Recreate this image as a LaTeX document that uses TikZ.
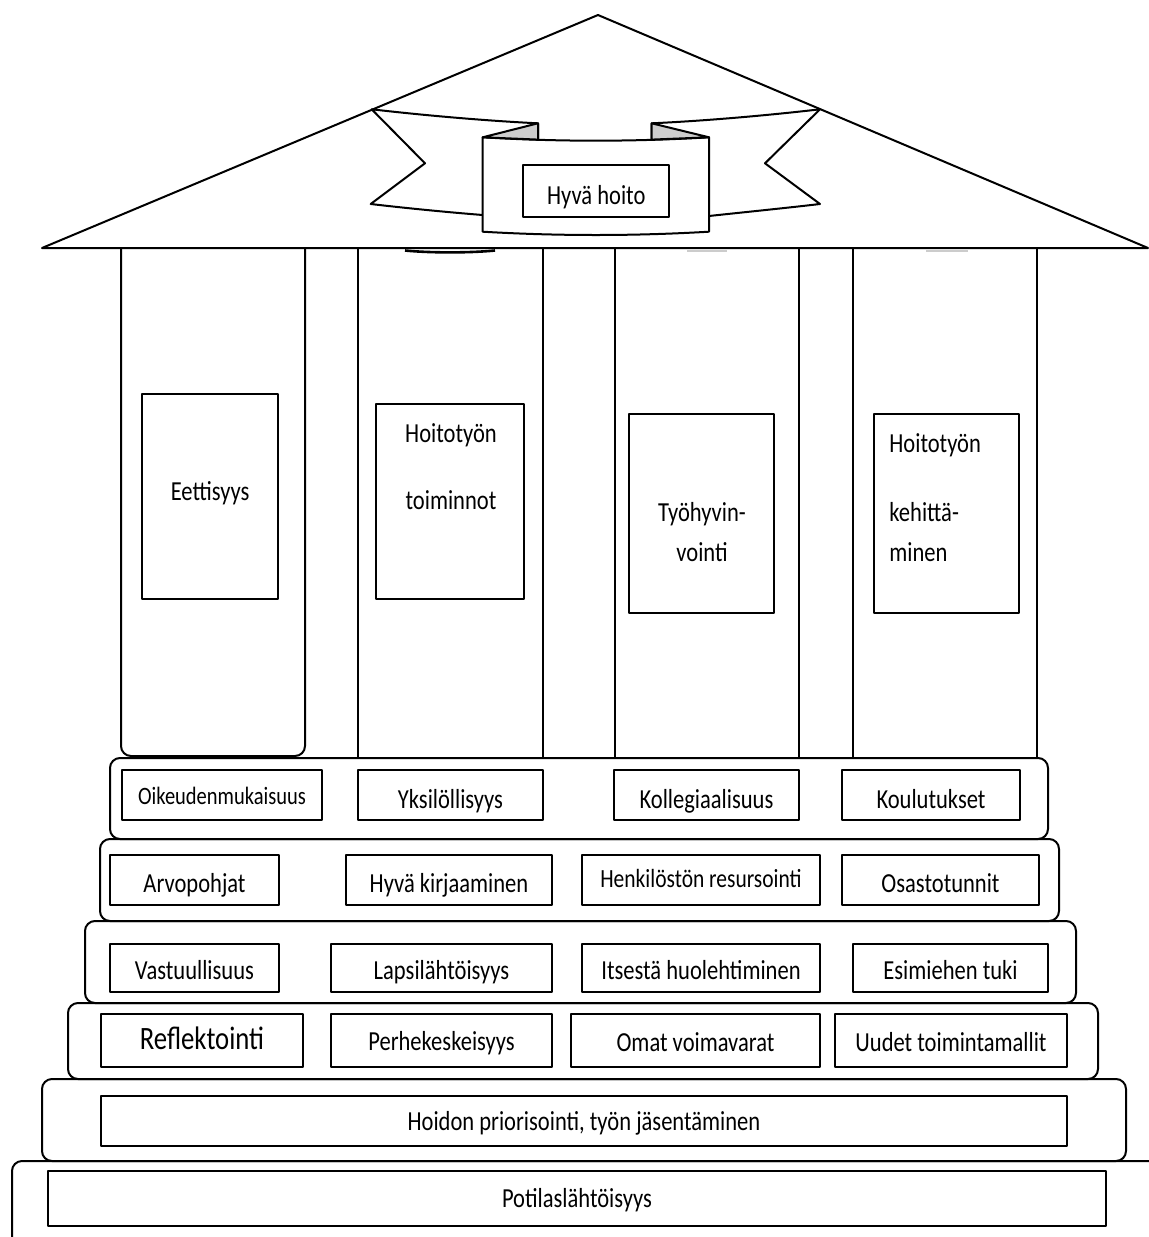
\documentclass[tikz,border=0pt]{standalone}
\usepackage{fontspec}
\setmainfont[FakeStretch=0.82]{Carlito}
\definecolor{foldgray}{RGB}{205,205,205}
\newcommand\fn{\fontsize{13.75pt}{16pt}\selectfont}
\newcommand\fnsmall{\fontsize{12.5pt}{15pt}\selectfont}
\newcommand\fnmid{\fontsize{13.1pt}{15pt}\selectfont}
\newcommand\fnbig{\fontsize{16.3pt}{19pt}\selectfont}
% name, x1, y1, x2, y2, baseline y, font, text  (pixel units, y down)
\newcommand\cell[8]{%
  \pgfmathsetmacro\cellw{(#4-#2)*0.5}%
  \pgfmathsetmacro\cellh{(#5-#3)*0.5}%
  \pgfmathsetmacro\cellt{#6-(#3+#5)/2}%
  \node[cellbox,minimum width=\cellw pt,minimum height=\cellh pt,
        text height=\cellt pt,text depth=0pt,font=#7] (#1) at ({(#2+#4)/2},{(#3+#5)/2}) {#8};}
\begin{document}
\begin{tikzpicture}[x=0.5pt,y=-0.5pt,line join=round,
  outline/.style={draw=black,line width=1pt},
  cellbox/.style={draw=black,line width=1.1pt,inner sep=0pt,outer sep=0pt,fill=white},
  lbl/.style={inner sep=0pt,font=\fn,anchor=base}]
\fill[white] (0,0) rectangle (1149,1237);
\useasboundingbox (0,0) rectangle (1149,1237);

% roof
\coordinate (roofL) at (42,248);
\coordinate (apex) at (598,15);
\coordinate (roofR) at (1148,248);
\draw[outline] (roofL) -- (apex) -- (roofR) -- cycle;
\draw[line width=1.3pt] (405,250.5) .. controls (430,253) and (470,253) .. (495,250.5);
\draw[gray!40,line width=1pt] (687,251) -- (727,251);
\draw[gray!40,line width=1pt] (926,251) -- (968,251);

% columns
\draw[outline,rounded corners=5pt] (121,248) -- (121,756) -- (305,756) -- (305,248);
\draw[outline] (358,248) -- (358,758);
\draw[outline] (543,248) -- (543,758);
\draw[outline] (615,248) -- (615,758);
\draw[outline] (799,248) -- (799,758);
\draw[outline] (853,248) -- (853,758);
\draw[outline] (1037,248) -- (1037,758);

% banner: left tail
\draw[outline,fill=white] (371.7,109.3) .. controls (430,116) and (490,121) .. (538,123.3)
  -- (538,139.5) -- (482.7,215) .. controls (445,212) and (405,208) .. (370.7,204)
  -- (425,163.3) -- cycle;
% banner: right tail
\draw[outline,fill=white] (820,109.3) .. controls (762,116) and (702,121) .. (651.7,123.3)
  -- (651.7,139.5) -- (709,216) .. controls (746,212) and (786,208) .. (820,204)
  -- (765,163.3) -- cycle;
% banner: centre
\draw[outline,fill=white] (482.7,137.3) .. controls (558,141.8) and (633.7,141.8) .. (709,137.3)
  -- (709,231.7) .. controls (633.7,236.1) and (558,236.1) .. (482.7,231.7) -- cycle;
\draw[outline,fill=foldgray] (538,123.3) -- (538,139.6) -- (482.7,137.3) -- cycle;
\draw[outline,fill=foldgray] (651.7,123.3) -- (651.7,139.6) -- (709,137.3) -- cycle;
\cell{hyva}{523.3}{165}{669.3}{217.3}{204}{\fn}{Hyvä hoito}

% pillar boxes
\cell{eet}{142.3}{394}{278}{598.7}{500.7}{\fn}{Eettisyys}
\cell{htt}{376}{404}{524}{598.7}{501.35}{\fn}{}
\node[lbl] (htt1) at (451,442.7) {Hoitotyön};
\node[lbl] (htt2) at (451,509.3) {toiminnot};
\cell{tyo}{629}{414}{774}{613}{513.5}{\fn}{}
\node[lbl] (tyo1) at (702,521.7) {Työhyvin-};
\node[lbl] (tyo2) at (702,561.7) {vointi};
\cell{keh}{874}{414}{1019}{613}{513.5}{\fn}{}
\node[lbl,anchor=base west] (keh1) at (889,452.7) {Hoitotyön};
\node[lbl,anchor=base west] (keh2) at (889,521.7) {kehittä-};
\node[lbl,anchor=base west] (keh3) at (889,561.7) {minen};

% steps
\draw[outline,rounded corners=5pt] (110,758) rectangle (1048,839);
\draw[outline,rounded corners=5pt] (100,839) rectangle (1059,921);
\draw[outline,rounded corners=5pt] (85,921) rectangle (1076,1003);
\draw[outline,rounded corners=5pt] (68,1003) rectangle (1098,1079);
\draw[outline,rounded corners=5pt] (42,1079) rectangle (1126,1161);
\draw[outline,rounded corners=5pt] (1149,1161) -- (12,1161) -- (12,1240);

% row 1
\cell{oik}{122}{770}{322}{820}{804}{\fnsmall}{Oikeudenmukaisuus}
\cell{yks}{358}{770}{543}{820}{808.3}{\fn}{Yksilöllisyys}
\cell{kol}{614}{770}{799}{820}{808.3}{\fn}{Kollegiaalisuus}
\cell{kou}{842}{770}{1020}{820}{808.3}{\fn}{Koulutukset}
% row 2
\cell{arv}{110}{855}{279}{905}{892.7}{\fn}{Arvopohjat}
\cell{kir}{346}{855}{552}{905}{892.7}{\fn}{Hyvä kirjaaminen}
\cell{hen}{582}{855}{820}{905}{887.3}{\fnmid}{Henkilöstön resursointi}
\cell{osa}{842}{855}{1039}{905}{892.7}{\fn}{Osastotunnit}
% row 3
\cell{vas}{110}{944}{279}{992}{979.3}{\fn}{Vastuullisuus}
\cell{lap}{331}{944}{552}{992}{979.3}{\fn}{Lapsilähtöisyys}
\cell{its}{582}{944}{820}{992}{979.3}{\fn}{Itsestä huolehtiminen}
\cell{esi}{853}{944}{1048}{992}{979.3}{\fn}{Esimiehen tuki}
% row 4
\cell{ref}{101}{1014}{303}{1067}{1049.3}{\fnbig}{Reflektointi}
\cell{per}{331}{1014}{552}{1067}{1050.7}{\fn}{Perhekeskeisyys}
\cell{oma}{571}{1014}{820}{1067}{1051.7}{\fn}{Omat voimavarat}
\cell{uud}{835}{1014}{1067}{1067}{1051.7}{\fn}{Uudet toimintamallit}
% row 5, 6
\cell{hoi}{101}{1096}{1067}{1146}{1130.7}{\fn}{Hoidon priorisointi, työn jäsentäminen}
\cell{pot}{48}{1171}{1106}{1226}{1207.3}{\fn}{Potilaslähtöisyys}
\end{tikzpicture}
\end{document}
